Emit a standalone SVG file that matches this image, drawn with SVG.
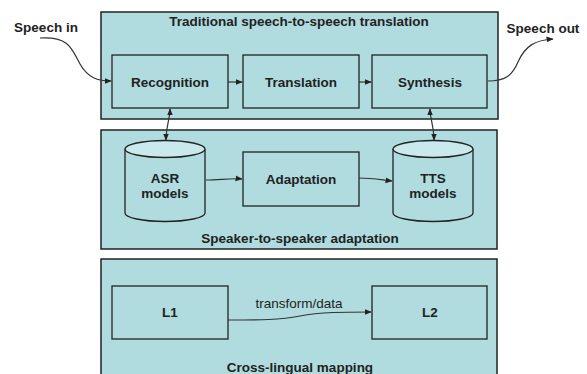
<svg xmlns="http://www.w3.org/2000/svg" width="587" height="374" viewBox="0 0 587 374">
<defs>
<style>
.panel{fill:#b0dcdf;stroke:#222;stroke-width:1.5}
.box{fill:#b0dcdf;stroke:#222;stroke-width:1.3}
.cyl{fill:#b0dcdf;stroke:#222;stroke-width:1.3}
.cyltop{fill:#c9e9ec;stroke:#222;stroke-width:1.3}
text{font-family:"Liberation Sans",Arial,sans-serif;font-weight:bold;font-size:13.5px;fill:#222;text-anchor:middle}
.lbl{font-weight:normal;font-size:13.5px}
.conn{fill:none;stroke:#333;stroke-width:1.2}
</style>
<marker id="ah" viewBox="0 0 10 10" refX="9" refY="5" markerWidth="6" markerHeight="6" orient="auto-start-reverse">
<path d="M0,1 L10,5 L0,9 z" fill="#222"/>
</marker>
</defs>
<rect width="587" height="374" fill="#fff"/>

<g id="panel-traditional">
<rect class="panel" x="101" y="12" width="397" height="107"/>
<text x="299" y="26">Traditional speech-to-speech translation</text>
</g>
<g id="panel-speaker">
<rect class="panel" x="101" y="130" width="396" height="119"/>
<text x="300" y="243">Speaker-to-speaker adaptation</text>
</g>
<g id="panel-crosslingual">
<rect class="panel" x="101" y="259" width="396" height="130"/>
<text x="300" y="372">Cross-lingual mapping</text>
</g>

<g id="speech-in"><text x="46" y="32">Speech in</text></g>
<g id="speech-out"><text x="543" y="33">Speech out</text></g>

<g id="recognition">
<rect class="box" x="112" y="55" width="116" height="53"/>
<text x="170" y="87">Recognition</text>
</g>
<g id="translation">
<rect class="box" x="243" y="55" width="116" height="53"/>
<text x="301" y="87">Translation</text>
</g>
<g id="synthesis">
<rect class="box" x="372" y="55" width="115" height="53"/>
<text x="430" y="87">Synthesis</text>
</g>

<g id="asr-models">
<path class="cyl" d="M125,149 L125,213 A40,8.5 0 0 0 205,213 L205,149"/>
<ellipse class="cyltop" cx="165" cy="149" rx="40" ry="8.5"/>
<text x="165" y="183">ASR</text>
<text x="165" y="198">models</text>
</g>
<g id="adaptation">
<rect class="box" x="243" y="152" width="116" height="54"/>
<text x="301" y="184">Adaptation</text>
</g>
<g id="tts-models">
<path class="cyl" d="M393,149 L393,213 A40,8.5 0 0 0 473,213 L473,149"/>
<ellipse class="cyltop" cx="433" cy="149" rx="40" ry="8.5"/>
<text x="433" y="183">TTS</text>
<text x="433" y="198">models</text>
</g>

<g id="l1">
<rect class="box" x="112" y="286" width="116" height="53"/>
<text x="170" y="317">L1</text>
</g>
<g id="l2">
<rect class="box" x="372" y="286" width="115" height="53"/>
<text x="430" y="317">L2</text>
</g>

<g id="connectors">
<path class="conn" d="M40,38 C70,36 72,50 80,64 C88,78 98,81 111,81" marker-end="url(#ah)"/>
<path class="conn" d="M228,82 L242,82" marker-end="url(#ah)"/>
<path class="conn" d="M359,82 L371,82" marker-end="url(#ah)"/>
<path class="conn" d="M488,81 C505,81 512,76 518,62 C525,46 535,40 553,39" marker-end="url(#ah)"/>
<path class="conn" d="M170,109 C170,120 166,125 166,140" marker-start="url(#ah)" marker-end="url(#ah)"/>
<path class="conn" d="M430,109 C430,120 434,125 434,140" marker-start="url(#ah)" marker-end="url(#ah)"/>
<path class="conn" d="M206,180 C220,180 230,178 242,179" marker-end="url(#ah)"/>
<path class="conn" d="M359,178 C372,178 382,180 392,181" marker-end="url(#ah)"/>
<path class="conn" d="M228,320 C260,320 280,320 300,316 C320,312 345,312 371,312" marker-end="url(#ah)"/>
<text class="lbl" x="299" y="308">transform/data</text>
</g>
</svg>
